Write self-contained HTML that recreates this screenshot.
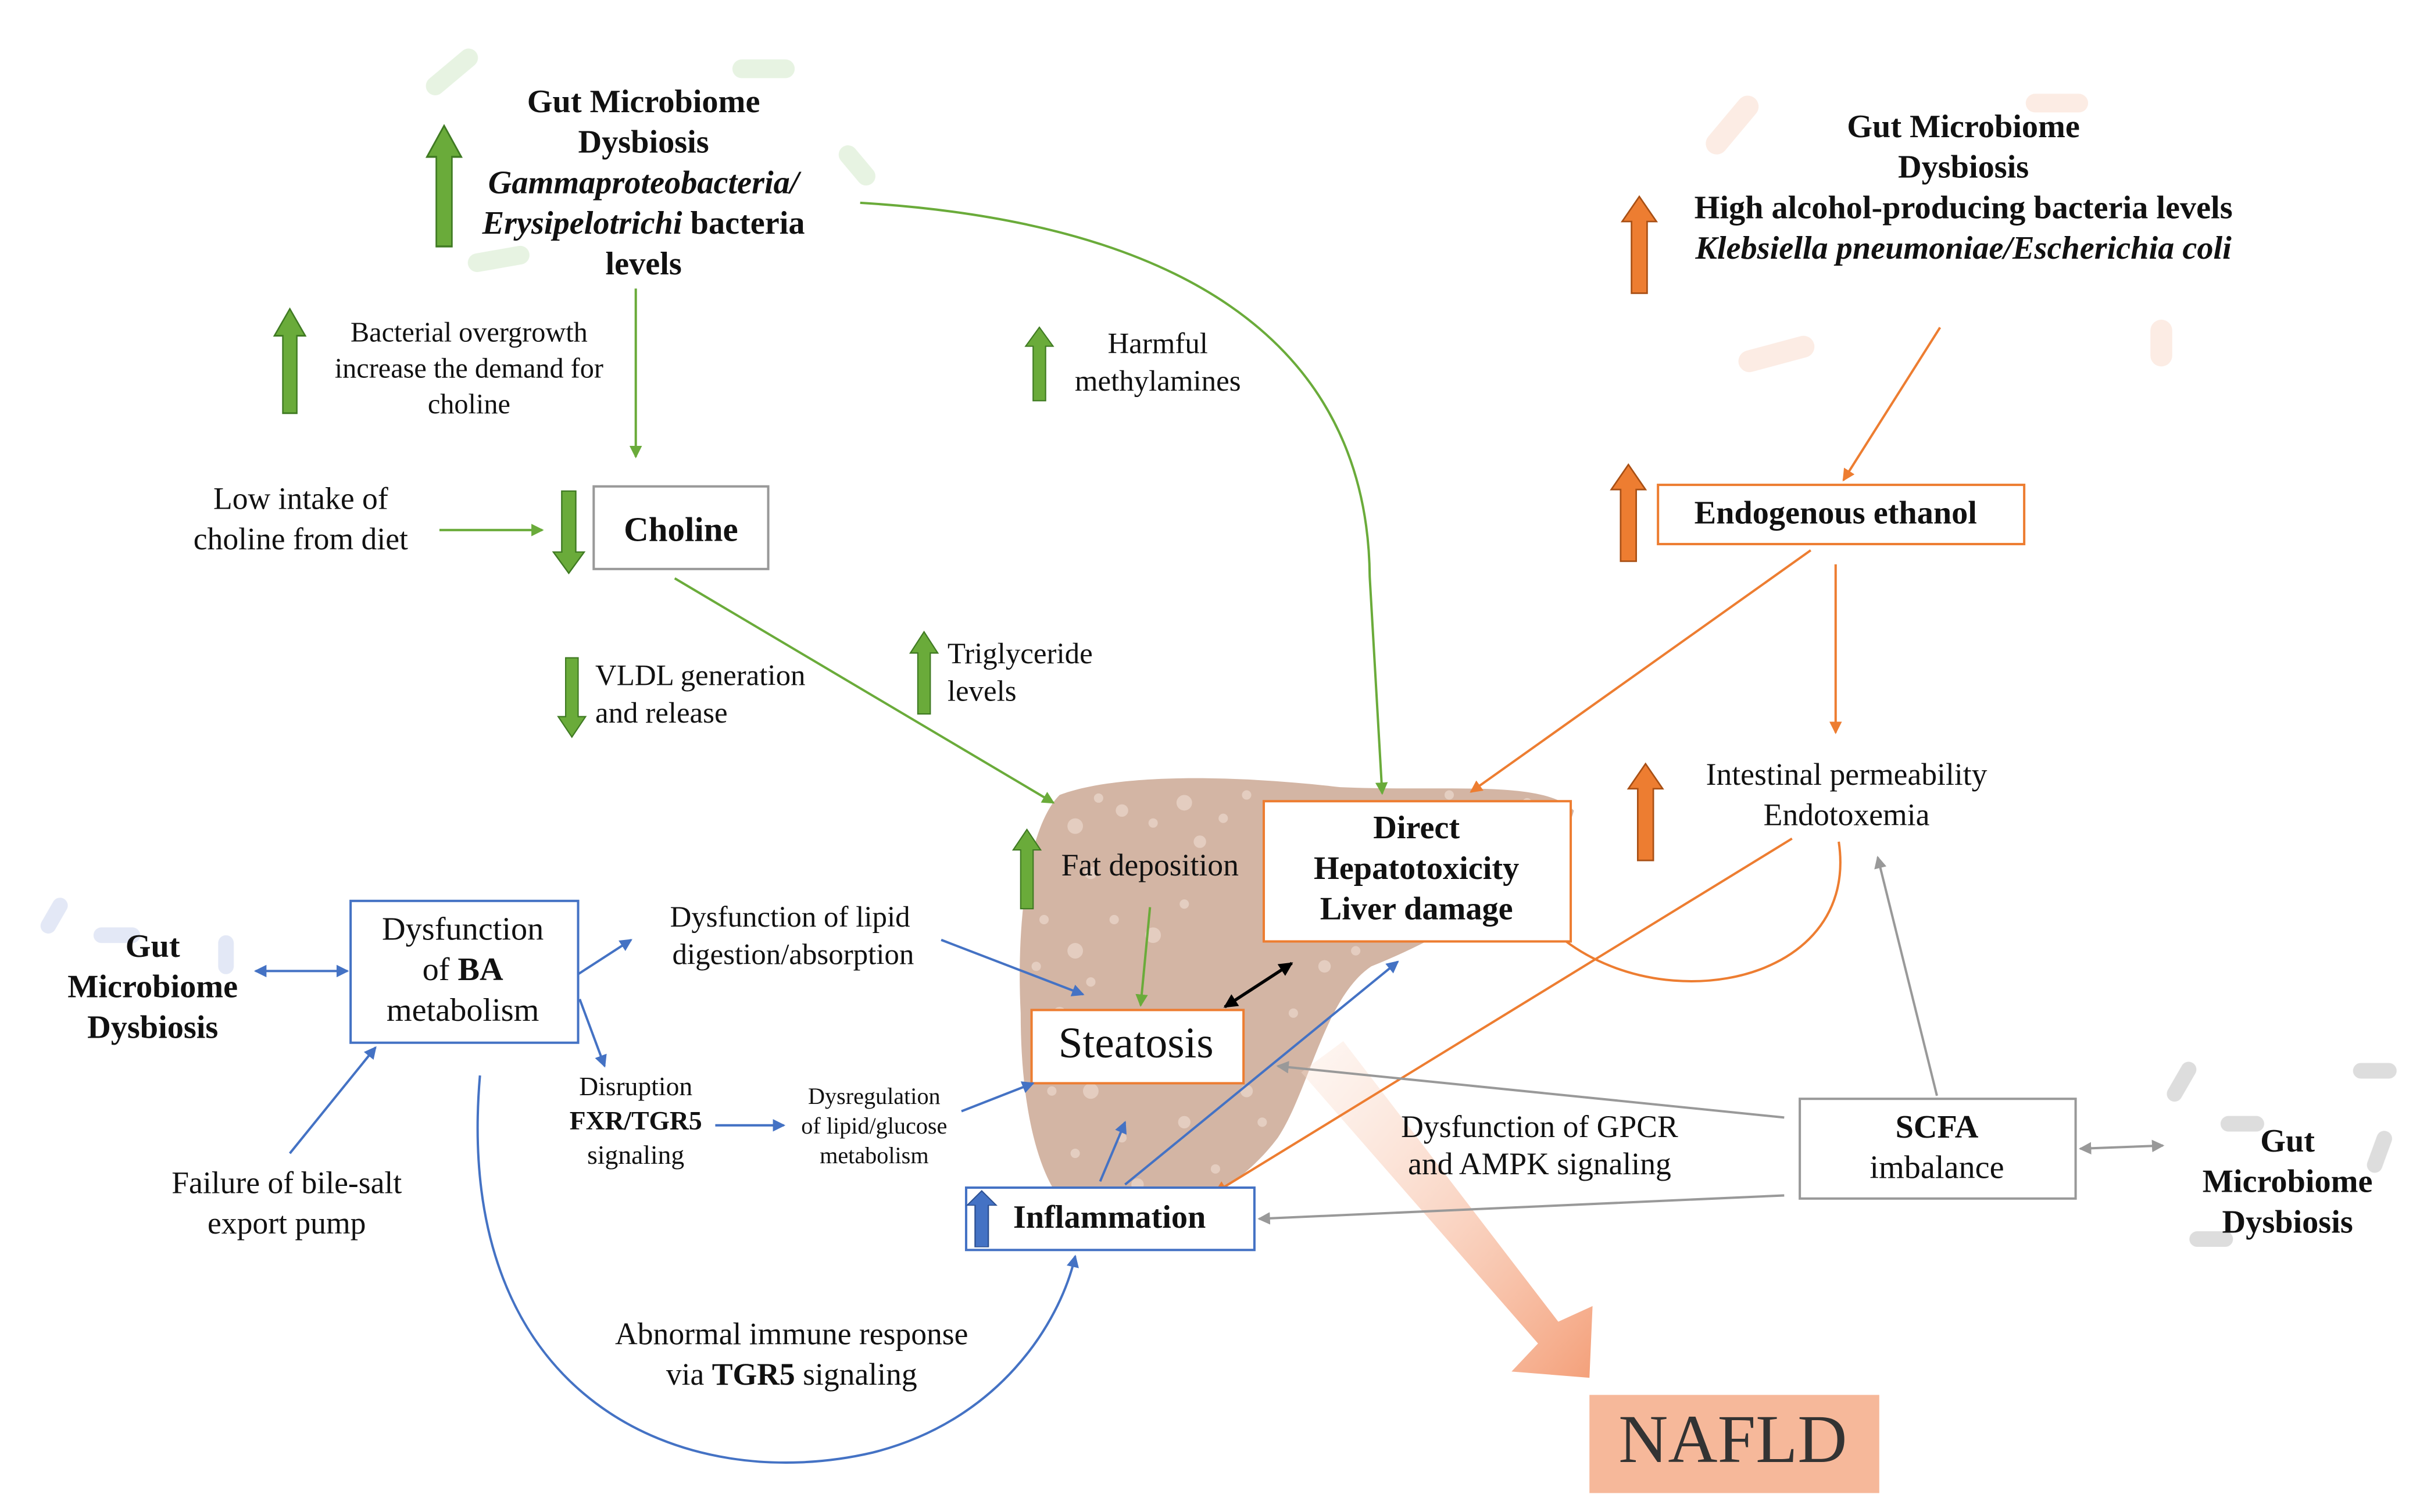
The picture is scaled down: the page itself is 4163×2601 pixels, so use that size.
<!DOCTYPE html>
<html><head><meta charset="utf-8"><style>
html,body{margin:0;padding:0;background:#fff;}
svg{display:block;}
text{font-family:"Liberation Serif",serif;fill:#111;text-anchor:middle;dominant-baseline:middle;}
</style></head><body>
<svg width="4163" height="2601" viewBox="0 0 1553 970" xmlns="http://www.w3.org/2000/svg">
<defs>
<marker id="mg" markerWidth="8" markerHeight="8" refX="7" refY="4" orient="auto" markerUnits="userSpaceOnUse"><path d="M0,0 L8,4 L0,8 z" fill="#6aab3a"/></marker>
<marker id="mo" markerWidth="8" markerHeight="8" refX="7" refY="4" orient="auto" markerUnits="userSpaceOnUse"><path d="M0,0 L8,4 L0,8 z" fill="#ed7d31"/></marker>
<marker id="mb" markerWidth="8" markerHeight="8" refX="7" refY="4" orient="auto" markerUnits="userSpaceOnUse"><path d="M0,0 L8,4 L0,8 z" fill="#4472c4"/></marker>
<marker id="mbs" markerWidth="8" markerHeight="8" refX="1" refY="4" orient="auto" markerUnits="userSpaceOnUse"><path d="M8,0 L0,4 L8,8 z" fill="#4472c4"/></marker>
<marker id="ma" markerWidth="8" markerHeight="8" refX="7" refY="4" orient="auto" markerUnits="userSpaceOnUse"><path d="M0,0 L8,4 L0,8 z" fill="#999"/></marker>
<marker id="mas" markerWidth="8" markerHeight="8" refX="1" refY="4" orient="auto" markerUnits="userSpaceOnUse"><path d="M8,0 L0,4 L8,8 z" fill="#999"/></marker>
<marker id="mk" markerWidth="9" markerHeight="9" refX="8" refY="4.5" orient="auto" markerUnits="userSpaceOnUse"><path d="M0,0 L9,4.5 L0,9 z" fill="#000"/></marker>
<marker id="mks" markerWidth="9" markerHeight="9" refX="1" refY="4.5" orient="auto" markerUnits="userSpaceOnUse"><path d="M9,0 L0,4.5 L9,9 z" fill="#000"/></marker>
<linearGradient id="gr" x1="0" y1="0" x2="1" y2="1"><stop offset="0" stop-color="#fbe3d6" stop-opacity="0.3"/><stop offset="1" stop-color="#f4a07a"/></linearGradient>
<g id="up"><path d="M-5,0 L-5,-46 L-11,-46 L0,-62 L11,-46 L5,-46 L5,0 z"/></g>
</defs>

<g opacity="0.25">
<rect x="270" y="40" width="40" height="12" rx="6" fill="#9ccf8a" transform="rotate(-40 290 46)"/>
<rect x="470" y="38" width="40" height="12" rx="6" fill="#9ccf8a"/>
<rect x="535" y="100" width="30" height="12" rx="6" fill="#9ccf8a" transform="rotate(50 550 106)"/>
<rect x="300" y="160" width="40" height="12" rx="6" fill="#9ccf8a" transform="rotate(-10 320 166)"/>
<rect x="1090" y="75" width="45" height="14" rx="7" fill="#f0b090" transform="rotate(-50 1110 82)"/>
<rect x="1115" y="220" width="50" height="14" rx="7" fill="#f0b090" transform="rotate(-15 1140 227)"/>
<rect x="1380" y="205" width="14" height="30" rx="7" fill="#f0b090"/>
<rect x="1300" y="60" width="40" height="12" rx="6" fill="#f0b090"/>
<rect x="30" y="575" width="10" height="25" rx="5" fill="#8fa3d8" transform="rotate(30 35 587)"/>
<rect x="140" y="600" width="10" height="25" rx="5" fill="#8fa3d8"/>
<rect x="60" y="595" width="30" height="10" rx="5" fill="#8fa3d8"/>
<rect x="1395" y="680" width="10" height="28" rx="5" fill="#777" transform="rotate(30 1400 694)"/>
<rect x="1425" y="716" width="28" height="10" rx="5" fill="#777"/>
<rect x="1522" y="725" width="10" height="28" rx="5" fill="#777" transform="rotate(20 1527 739)"/>
<rect x="1405" y="790" width="28" height="10" rx="5" fill="#777"/>
<rect x="1510" y="682" width="28" height="10" rx="5" fill="#777"/>
</g>

<path d="M680,510 C720,495 800,498 860,505 C930,508 990,500 1010,520 C1000,560 930,600 880,620 C850,640 840,700 820,730 C790,770 740,790 700,785 C670,775 655,720 655,650 C652,590 660,530 680,510 z" fill="#d3b5a4"/>
<g fill="#e6d0c4" opacity="0.9">
<circle cx="690" cy="530" r="5"/><circle cx="720" cy="520" r="4"/><circle cx="760" cy="515" r="5"/><circle cx="700" cy="560" r="4"/><circle cx="770" cy="540" r="4"/><circle cx="690" cy="610" r="5"/><circle cx="700" cy="700" r="5"/><circle cx="760" cy="720" r="4"/><circle cx="680" cy="650" r="4"/><circle cx="740" cy="600" r="5"/><circle cx="850" cy="620" r="4"/><circle cx="800" cy="700" r="4"/><circle cx="730" cy="760" r="4"/>
<circle cx="705" cy="512" r="3"/><circle cx="740" cy="528" r="3"/><circle cx="785" cy="525" r="3"/><circle cx="800" cy="510" r="3"/><circle cx="715" cy="590" r="3"/><circle cx="760" cy="580" r="3"/><circle cx="670" cy="590" r="3"/><circle cx="675" cy="700" r="3"/><circle cx="690" cy="740" r="3"/><circle cx="720" cy="730" r="3"/><circle cx="780" cy="750" r="3"/><circle cx="810" cy="720" r="3"/><circle cx="830" cy="650" r="3"/><circle cx="870" cy="610" r="3"/><circle cx="930" cy="510" r="3"/><circle cx="980" cy="515" r="3"/><circle cx="700" cy="630" r="3"/><circle cx="665" cy="620" r="3"/>
</g>

<path d="M835,688 L862,668 L1000,848 L1022,838 L1020,884 L970,880 L987,862 z" fill="url(#gr)"/>

<g fill="#6aab3a" stroke="#3f7a22" stroke-width="1">
<use href="#up" transform="translate(285,158) scale(1,1.25)"/>
<use href="#up" transform="translate(186,265) scale(0.9,1.08)"/>
<use href="#up" transform="translate(667,257) scale(0.8,0.76)"/>
<use href="#up" transform="translate(365,315) scale(0.9,-0.85)"/>
<use href="#up" transform="translate(367,422) scale(0.8,-0.82)"/>
<use href="#up" transform="translate(593,458) scale(0.8,0.85)"/>
<use href="#up" transform="translate(659,583) scale(0.8,0.82)"/>
</g>
<g stroke="#6aab3a" stroke-width="1.5" fill="none" marker-end="url(#mg)">
<line x1="408" y1="185" x2="408" y2="293"/>
<path d="M552,130 C800,145 878,250 879,370 L887,509"/>
<line x1="282" y1="340" x2="348" y2="340"/>
<line x1="433" y1="371" x2="676" y2="515"/>
<line x1="738" y1="582" x2="732" y2="645"/>
</g>

<text font-weight="bold" font-size="21"><tspan x="413" y="67">Gut Microbiome</tspan><tspan x="413" y="93">Dysbiosis</tspan><tspan x="413" y="119" font-style="italic">Gammaproteobacteria/</tspan><tspan x="413" y="145"><tspan font-style="italic">Erysipelotrichi</tspan> bacteria</tspan><tspan x="413" y="171">levels</tspan></text>
<text font-size="18"><tspan x="301" y="215">Bacterial overgrowth</tspan><tspan x="301" y="238">increase the demand for</tspan><tspan x="301" y="261">choline</tspan></text>
<text font-size="19"><tspan x="743" y="222">Harmful</tspan><tspan x="743" y="246">methylamines</tspan></text>
<rect x="381" y="312" width="112" height="53" fill="#fff" stroke="#999" stroke-width="1.5"/>
<text x="437" y="342" font-size="22" font-weight="bold">Choline</text>
<text font-size="20"><tspan x="193" y="322">Low intake of</tspan><tspan x="193" y="348">choline from diet</tspan></text>
<text font-size="19" style="text-anchor:start"><tspan x="382" y="435">VLDL generation</tspan><tspan x="382" y="459">and release</tspan></text>
<text font-size="19" style="text-anchor:start"><tspan x="608" y="421">Triglyceride</tspan><tspan x="608" y="445">levels</tspan></text>
<text x="738" y="557" font-size="20">Fat deposition</text>

<g fill="#ed7d31" stroke="#a84f14" stroke-width="1">
<use href="#up" transform="translate(1052,188)"/>
<use href="#up" transform="translate(1045,360)"/>
<use href="#up" transform="translate(1056,552)"/>
</g>
<g stroke="#ed7d31" stroke-width="1.5" fill="none" marker-end="url(#mo)">
<line x1="1245" y1="210" x2="1183" y2="308"/>
<line x1="1162" y1="353" x2="944" y2="508"/>
<line x1="1178" y1="362" x2="1178" y2="470"/>
<path d="M1180,540 C1195,640 1040,660 982,581"/>
<line x1="1150" y1="538" x2="780" y2="765"/>
</g>
<text font-weight="bold" font-size="21"><tspan x="1260" y="83">Gut Microbiome</tspan><tspan x="1260" y="109">Dysbiosis</tspan><tspan x="1260" y="135">High alcohol-producing bacteria levels</tspan><tspan x="1260" y="161" font-style="italic">Klebsiella pneumoniae/Escherichia coli</tspan></text>
<rect x="1064" y="311" width="235" height="38" fill="#fff" stroke="#ed7d31" stroke-width="1.5"/>
<text x="1178" y="331" font-size="21" font-weight="bold">Endogenous ethanol</text>
<text font-size="20"><tspan x="1185" y="499">Intestinal permeability</tspan><tspan x="1185" y="525">Endotoxemia</tspan></text>
<rect x="811" y="514" width="197" height="90" fill="#fff" stroke="#ed7d31" stroke-width="1.5"/>
<text font-size="21" font-weight="bold"><tspan x="909" y="533">Direct</tspan><tspan x="909" y="559">Hepatotoxicity</tspan><tspan x="909" y="585">Liver damage</tspan></text>
<rect x="662" y="648" width="136" height="47" fill="#fff" stroke="#ed7d31" stroke-width="1.5"/>
<text x="729" y="672" font-size="28">Steatosis</text>
<line x1="786" y1="646" x2="829" y2="618" stroke="#000" stroke-width="2" marker-end="url(#mk)" marker-start="url(#mks)"/>

<g stroke="#4472c4" stroke-width="1.5" fill="none" marker-end="url(#mb)">
<line x1="164" y1="623" x2="223" y2="623" marker-start="url(#mbs)"/>
<line x1="371" y1="625" x2="405" y2="603"/>
<line x1="604" y1="603" x2="695" y2="638"/>
<line x1="372" y1="641" x2="388" y2="684"/>
<line x1="459" y1="722" x2="503" y2="722"/>
<line x1="617" y1="713" x2="663" y2="695"/>
<line x1="186" y1="740" x2="241" y2="672"/>
<path d="M308,690 C290,900 440,960 560,932 C640,912 680,850 690,806"/>
<line x1="706" y1="758" x2="722" y2="720"/>
<line x1="722" y1="760" x2="897" y2="617"/>
</g>
<text font-weight="bold" font-size="21"><tspan x="98" y="609">Gut</tspan><tspan x="98" y="635">Microbiome</tspan><tspan x="98" y="661">Dysbiosis</tspan></text>
<rect x="225" y="578" width="146" height="91" fill="#fff" stroke="#4472c4" stroke-width="1.5"/>
<text font-size="21"><tspan x="297" y="598">Dysfunction</tspan><tspan x="297" y="624">of <tspan font-weight="bold">BA</tspan></tspan><tspan x="297" y="650">metabolism</tspan></text>
<text font-size="19"><tspan x="507" y="590">Dysfunction of lipid</tspan><tspan x="509" y="614">digestion/absorption</tspan></text>
<text font-size="17"><tspan x="408" y="699">Disruption</tspan><tspan x="408" y="721" font-weight="bold">FXR/TGR5</tspan><tspan x="408" y="743">signaling</tspan></text>
<text font-size="15"><tspan x="561" y="705">Dysregulation</tspan><tspan x="561" y="724">of lipid/glucose</tspan><tspan x="561" y="743">metabolism</tspan></text>
<text font-size="20"><tspan x="184" y="761">Failure of bile-salt</tspan><tspan x="184" y="787">export pump</tspan></text>
<text font-size="20"><tspan x="508" y="858">Abnormal immune response</tspan><tspan x="508" y="884">via <tspan font-weight="bold">TGR5</tspan> signaling</tspan></text>
<rect x="620" y="762" width="185" height="40" fill="#fff" stroke="#4472c4" stroke-width="1.5"/>
<g fill="#4472c4" stroke="#2b4f91" stroke-width="1"><use href="#up" transform="translate(630,800) scale(0.85,0.58)"/></g>
<text x="712" y="783" font-size="21" font-weight="bold">Inflammation</text>

<g stroke="#999" stroke-width="1.5" fill="none" marker-end="url(#ma)">
<line x1="1145" y1="717" x2="820" y2="684"/>
<line x1="1145" y1="767" x2="808" y2="782"/>
<line x1="1243" y1="703" x2="1205" y2="550"/>
<line x1="1335" y1="737" x2="1388" y2="735" marker-start="url(#mas)"/>
</g>
<rect x="1155" y="705" width="177" height="64" fill="#fff" stroke="#999" stroke-width="1.5"/>
<text font-size="21"><tspan x="1243" y="725" font-weight="bold">SCFA</tspan><tspan x="1243" y="751">imbalance</tspan></text>
<text font-size="20"><tspan x="988" y="725">Dysfunction of GPCR</tspan><tspan x="988" y="749">and AMPK signaling</tspan></text>
<text font-weight="bold" font-size="21"><tspan x="1468" y="734">Gut</tspan><tspan x="1468" y="760">Microbiome</tspan><tspan x="1468" y="786">Dysbiosis</tspan></text>

<rect x="1020" y="895" width="186" height="63" fill="#f6b89a"/>
<text x="1112" y="928" font-size="44" style="fill:#333">NAFLD</text>
</svg>
</body></html>
